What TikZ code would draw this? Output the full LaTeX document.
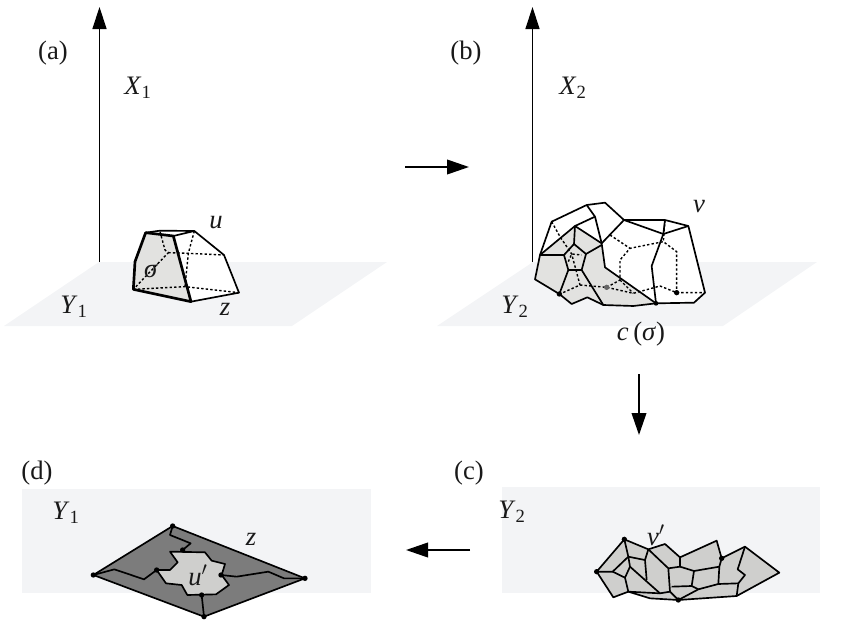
\documentclass[tikz,border=0pt]{standalone}
\usepackage{fontspec}
\setmainfont{Liberation Serif}
\usetikzlibrary{arrows.meta}
\definecolor{planecol}{HTML}{F3F4F6}
\definecolor{facecol}{HTML}{E2E2E0}
\definecolor{lightcol}{HTML}{CFCFCD}
\definecolor{darkcol}{HTML}{7C7C7C}
\tikzset{
  lab/.style={inner sep=0pt,font=\fontsize{20}{24}\selectfont,text=black!90},
  plane/.style={fill=planecol,draw=none},
  solid edge/.style={draw=black,line width=1.25pt,line join=round},
  thick edge/.style={draw=black,line width=2pt,line join=round},
  dash edge/.style={draw=black,line width=1.05pt,dash pattern=on 1.8pt off 1.6pt},
  axis/.style={draw=black,line width=1pt,-{Triangle[length=16.5pt,width=10.5pt]}},
  flow/.style={draw=black,line width=1.3pt,-{Triangle[length=16.5pt,width=11pt]}},
  dot/.style={fill=black,circle,inner sep=0pt,minimum size=4pt},
  zoomed/.style={x=0.25pt,y=-0.25pt}
}
\newcommand{\Sb}[1]{\textsubscript{#1}}
\begin{document}
\begin{tikzpicture}[x=0.75pt,y=-0.75pt]
\useasboundingbox (0,0) rectangle (844,621);
% planes
\fill[plane] (99,262) -- (387,262) -- (292,326) -- (4,326) -- cycle;
\fill[plane] (533,262) -- (817,262) -- (723,326) -- (437,326) -- cycle;
\fill[plane] (22,489) rectangle (371,593);
\fill[plane] (502,487) rectangle (820,593);
% axes
\coordinate (a0) at (99.5,262); \coordinate (a1) at (99.5,7);
\coordinate (b0) at (532.5,262); \coordinate (b1) at (532.5,7);
\draw[axis] (a0) -- (a1);
\draw[axis] (b0) -- (b1);
% flow arrows
\coordinate (f1) at (405,167); \coordinate (f2) at (469,167);
\coordinate (f3) at (639,374); \coordinate (f4) at (639,435);
\coordinate (f5) at (470,550); \coordinate (f6) at (406,550);
\draw[flow] (f1) -- (f2);
\draw[flow] (f3) -- (f4);
\draw[flow] (f5) -- (f6);
% (a) cell
\begin{scope}[shift={(0,180)},zoomed]
\fill[white] (437,158) -- (480,152) -- (583,153) -- (672,225) -- (717,338) -- (573,365) -- (520,168) -- cycle;
\fill[facecol] (437,158) -- (520,168) -- (573,365) -- (400,328) -- (405,245) -- cycle;
\draw[dash edge] (480,155) -- (495,210) -- (505,218) -- (400,328);
\draw[dash edge] (505,218) -- (565,220) -- (672,225);
\draw[dash edge] (583,153) -- (565,220) -- (555,320);
\draw[dash edge] (400,328) -- (555,320) -- (717,338);
\draw[solid edge] (437,158) -- (480,152) -- (583,153) -- (672,225) -- (717,338) -- (573,365);
\draw[solid edge] (520,168) -- (583,153);
\draw[thick edge] (437,158) -- (520,168) -- (573,365) -- (400,328) -- (405,245) -- cycle;
\end{scope}
% (b) cell
\begin{scope}[shift={(500,180)},zoomed]
\fill[white] (120,225) -- (155,125) -- (260,75) -- (315,68) -- (372,120) -- (495,120) -- (565,138) -- (615,338) -- (582,368) -- (468,370) -- (400,378) -- (310,375) -- (262,352) -- (215,372) -- (178,342) -- (105,298) -- cycle;
\fill[facecol] (120,225) -- (225,138) -- (305,190) -- (315,262) -- (468,370) -- (400,378) -- (310,375) -- (262,352) -- (215,372) -- (178,342) -- (105,298) -- cycle;
\draw[dash edge] (155,125) -- (180,170) -- (215,222) -- (240,315) -- (180,342);
\draw[dash edge] (240,315) -- (320,322) -- (400,340) -- (480,318) -- (530,338) -- (615,338);
\draw[dash edge] (320,322) -- (360,300) -- (360,240) -- (390,205) -- (490,185) -- (530,215) -- (530,338);
\draw[dash edge] (495,120) -- (490,185);
\draw[dash edge] (330,165) -- (390,205);
\draw[dash edge] (360,300) -- (400,340);
\draw[dash edge] (205,245) -- (215,222) -- (245,225);
\draw[solid edge] (120,225) -- (155,125) -- (260,75) -- (315,68) -- (372,120) -- (495,120) -- (565,138) -- (615,338) -- (582,368) -- (468,370) -- (400,378) -- (310,375) -- (262,352) -- (215,372) -- (178,342) -- (105,298) -- cycle;
\draw[solid edge] (120,225) -- (225,138) -- (305,190) -- (372,120) -- (490,162) -- (565,138);
\draw[solid edge] (260,75) -- (285,110) -- (305,190) -- (315,262) -- (468,370);
\draw[solid edge] (285,110) -- (225,138) -- (222,192) -- (192,225) -- (120,225);
\draw[solid edge] (495,120) -- (490,162) -- (455,258) -- (468,370);
\draw[solid edge] (222,192) -- (258,222) -- (305,195);
\draw[solid edge] (258,222) -- (245,270) -- (205,270) -- (192,225);
\draw[solid edge] (205,270) -- (178,342);
\draw[solid edge] (245,270) -- (310,375);
\node[dot] (bd1) at (178,342) {};
\node[dot,fill=black!60] (bd2) at (320,322) {};
\node[dot] (bd3) at (530,338) {};
\node[dot,minimum size=3.5pt] (bd4) at (468,370) {};
\end{scope}
% (c) cell
\begin{scope}[shift={(570,510)},zoomed]
\fill[lightcol] (80,185) -- (163,88) -- (235,118) -- (285,102) -- (330,142) -- (440,92) -- (455,145) -- (525,110) -- (628,188) -- (500,258) -- (325,270) -- (240,265) -- (175,245) -- (130,262) -- cycle;
\draw[solid edge] (80,185) -- (163,88) -- (235,118) -- (285,102) -- (330,142) -- (440,92) -- (455,145) -- (525,110) -- (628,188) -- (500,258) -- (325,270) -- (240,265) -- (175,245) -- (130,262) -- cycle;
\draw[solid edge] (80,185) -- (128,185) -- (175,140) -- (163,88);
\draw[solid edge] (175,140) -- (225,150) -- (235,118);
\draw[solid edge] (235,118) -- (295,175) -- (300,245) -- (270,250) -- (180,170);
\draw[solid edge] (225,150) -- (230,210);
\draw[solid edge] (128,185) -- (165,203) -- (180,170) -- (175,140);
\draw[solid edge] (165,203) -- (175,245) -- (270,250);
\draw[solid edge] (295,175) -- (330,170) -- (330,142);
\draw[solid edge] (330,170) -- (372,183) -- (448,170) -- (455,145);
\draw[solid edge] (372,183) -- (365,228) -- (305,230);
\draw[solid edge] (448,170) -- (445,222) -- (385,238) -- (325,270);
\draw[solid edge] (365,228) -- (385,238);
\draw[solid edge] (445,222) -- (505,220) -- (500,258);
\draw[solid edge] (505,220) -- (525,195) -- (503,178) -- (525,110);
\draw[solid edge] (300,245) -- (325,270);
\node[dot] (cd1) at (80,185) {};
\node[dot] (cd2) at (163,88) {};
\node[dot] (cd3) at (455,145) {};
\node[dot] (cd4) at (325,270) {};
\end{scope}
% (d) cell
\begin{scope}[shift={(80,500)},zoomed]
\fill[darkcol] (278,78) -- (675,235) -- (372,350) -- (40,225) -- cycle;
\draw[solid edge] (278,78) -- (675,235) -- (372,350) -- (40,225) -- cycle;
\fill[lightcol] (270,155) -- (375,157) -- (395,182) -- (435,192) -- (425,225) -- (447,255) -- (408,283) -- (322,285) -- (305,255) -- (258,250) -- (230,210) -- (270,210) -- (293,187) -- cycle;
\draw[solid edge] (270,155) -- (375,157) -- (395,182) -- (435,192) -- (425,225) -- (447,255) -- (408,283) -- (322,285) -- (305,255) -- (258,250) -- (230,210) -- (270,210) -- (293,187) -- cycle;
\draw[solid edge] (278,78) -- (270,105) -- (332,130) -- (308,150);
\draw[solid edge] (40,225) -- (103,208) -- (192,238) -- (230,210);
\draw[solid edge] (423,225) -- (470,230) -- (565,215) -- (612,235) -- (675,235);
\draw[solid edge] (365,285) -- (372,350);
\node[dot] (dd1) at (278,78) {};
\node[dot] (dd2) at (675,235) {};
\node[dot] (dd3) at (372,350) {};
\node[dot] (dd4) at (40,225) {};
\node[dot] (dd5) at (308,150) {};
\node[dot] (dd6) at (230,210) {};
\node[dot] (dd7) at (423,225) {};
\node[dot] (dd8) at (365,285) {};
\end{scope}
% labels
\node[lab] (la) at (53,53) {(a)};
\node[lab] (lb) at (466,53) {(b)};
\node[lab] (lc) at (469,473) {(c)};
\node[lab] (ld) at (37,473) {(d)};
\node[lab] (x1) at (138,88) {\textit{X}\Sb{1}};
\node[lab] (x2) at (573,88) {\textit{X}\Sb{2}};
\node[lab] (u) at (216,223) {\textit{u}};
\node[lab] (sg) at (151,271) {\textit{σ}};
\node[lab] (y1) at (74,307) {\textit{Y}\Sb{1}};
\node[lab] (z1) at (225,309) {\textit{z}};
\node[lab] (v) at (699,207) {\textit{v}};
\node[lab] (y2) at (515,307) {\textit{Y}\Sb{2}};
\node[lab] (cs) at (641,334) {\textit{c}\,(\textit{σ})};
\node[lab] (y1b) at (66,513) {\textit{Y}\Sb{1}};
\node[lab] (z2) at (251,539) {\textit{z}};
\node[lab] (up) at (198,575) {\textit{u}$'$};
\node[lab] (y2b) at (512,512) {\textit{Y}\Sb{2}};
\node[lab] (vp) at (656,535) {\textit{v}$'$};
\end{tikzpicture}
\end{document}
